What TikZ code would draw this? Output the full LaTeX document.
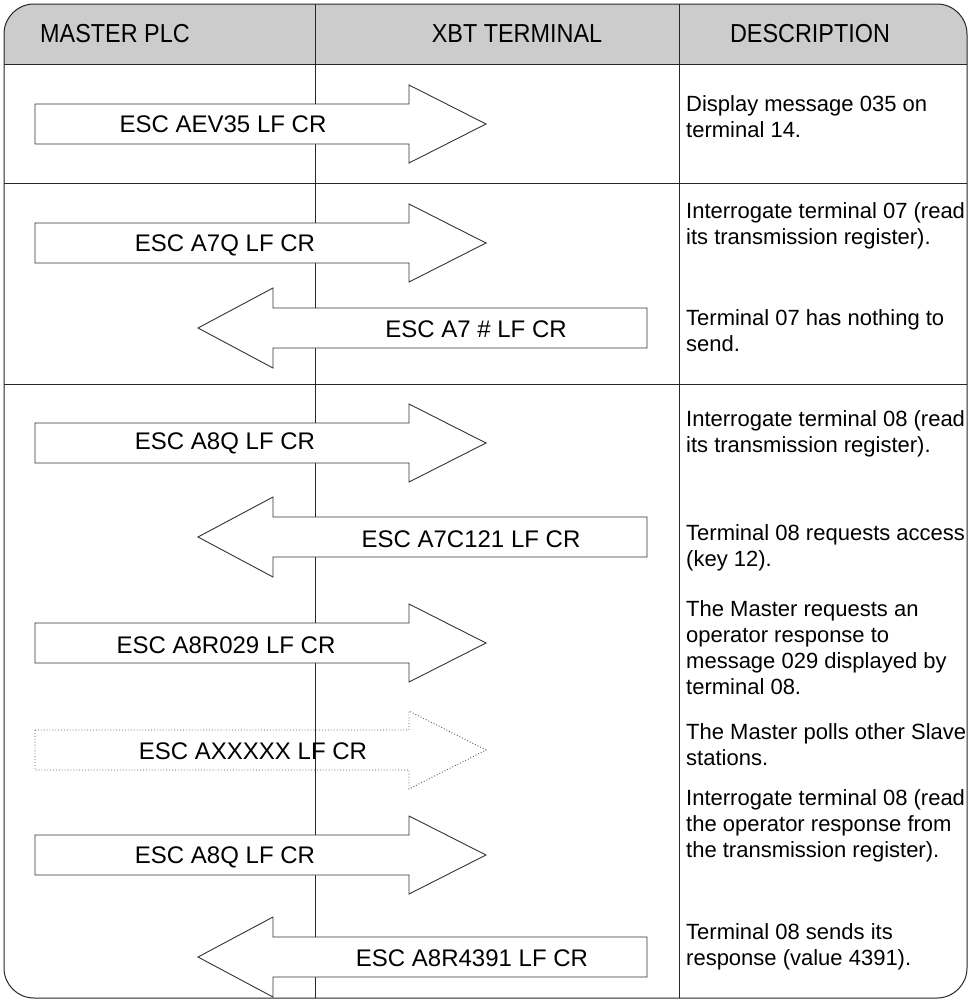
\documentclass[tikz,border=0pt]{standalone}
\usepackage{fontspec}
\setmainfont{Liberation Sans}
\usepackage{graphicx}
\newcommand\myRA[2][sig]{\path[#1] (35,{#2-20}) -- (409,{#2-20}) -- (409,{#2-39}) -- (486,#2) -- (409,{#2+39}) -- (409,{#2+20}) -- (35,{#2+20}) -- cycle;}
\newcommand\myLA[2][sig]{\path[#1] (647,{#2-20}) -- (273,{#2-20}) -- (273,{#2-40}) -- (198,#2) -- (273,{#2+40}) -- (273,{#2+20}) -- (647,{#2+20}) -- cycle;}
\begin{document}
\begin{tikzpicture}[x=1pt,y=-1pt,
  gridline/.style={draw=black!85, line width=1pt},
  sig/.style={draw=black!80, fill=white, line width=0.9pt, line join=miter},
  sigdot/.style={draw=black!65, dotted, line width=0.9pt},
  lbl/.style={font=\fontsize{24}{28}\selectfont, inner sep=0pt, anchor=center},
  hdr/.style={font=\fontsize{26}{30}\selectfont, inner sep=0pt, anchor=center},
  desc/.style={font=\fontsize{22}{26}\selectfont, align=left, anchor=north west, inner sep=0pt}]
\useasboundingbox (0,0) rectangle (971,1001);
% header shading
\begin{scope}
  \clip[rounded corners=30] (4,4) rectangle (967,998);
  \fill[black!20] (4,4) rectangle (967,64);
\end{scope}
% grid lines
\draw[gridline] (315,4) -- (315,998);
\draw[gridline] (679,4) -- (679,998);
\draw[gridline] (4,64) -- (967,64);
\draw[gridline] (4,183) -- (967,183);
\draw[gridline] (4,384) -- (967,384);
\draw[gridline, rounded corners=30] (4,4) rectangle (967,998);
% header texts
\node[hdr] (h1) at (115,34) {\scalebox{0.9}[1]{MASTER PLC}};
\node[hdr] (h2) at (517,34) {\scalebox{0.9}[1]{XBT TERMINAL}};
\node[hdr] (h3) at (810,34) {\scalebox{0.9}[1]{DESCRIPTION}};
% arrows
\myRA{124}
\myRA{243}
\myLA{328}
\myRA{443}
\myLA{537}
\myRA{643}
\myRA[sigdot]{750}
\myRA{855}
\myLA{957}
% arrow labels
\node[lbl] (a1) at (223,124) {ESC AEV35 LF CR};
\node[lbl] (a2) at (225,245) {ESC A7Q LF CR};
\node[lbl] (a3) at (476,329) {ESC A7 \# LF CR};
\node[lbl] (a4) at (225,443) {ESC A8Q LF CR};
\node[lbl] (a5) at (471,539) {ESC A7C121 LF CR};
\node[lbl] (a6) at (226,645) {ESC A8R029 LF CR};
\node[lbl] (a7) at (253,751) {ESC AXXXXX LF CR};
\node[lbl] (a8) at (225,857) {ESC A8Q LF CR};
\node[lbl] (a9) at (472,958) {ESC A8R4391 LF CR};
% descriptions
\node[desc] (d1) at (686,95) {Display message 035 on\\terminal 14.};
\node[desc] (d2) at (686,202) {Interrogate terminal 07 (read\\its transmission register).};
\node[desc] (d3) at (686,309) {Terminal 07 has nothing to\\send.};
\node[desc] (d4) at (686,410) {Interrogate terminal 08 (read\\its transmission register).};
\node[desc] (d5) at (686,524) {Terminal 08 requests access\\(key 12).};
\node[desc] (d6) at (686,600) {The Master requests an\\operator response to\\message 029 displayed by\\terminal 08.};
\node[desc] (d7) at (686,723) {The Master polls other Slave\\stations.};
\node[desc] (d8) at (686,789) {Interrogate terminal 08 (read\\the operator response from\\the transmission register).};
\node[desc] (d9) at (686,923) {Terminal 08 sends its\\response (value 4391).};
\end{tikzpicture}
\end{document}
